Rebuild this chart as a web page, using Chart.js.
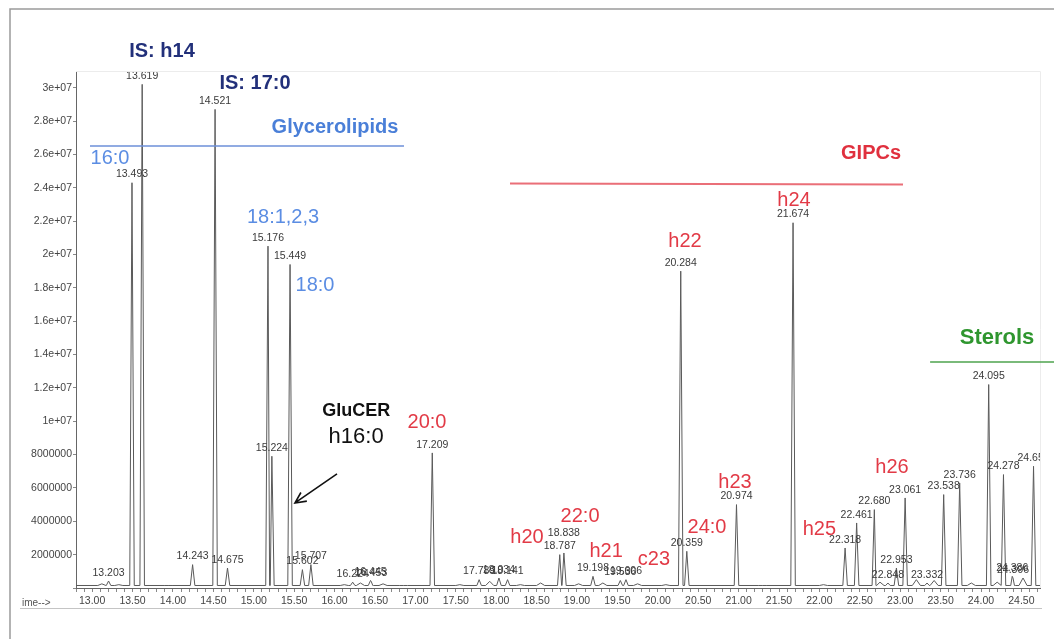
<!DOCTYPE html>
<html>
<head>
<meta charset="utf-8">
<script src="https://cdn.jsdelivr.net/npm/chart.js@4.4.0/dist/chart.umd.min.js"></script>
<style>
  html, body { margin: 0; padding: 0; background: #fff; }
  #wrap { width: 1054px; height: 639px; position: relative; }
</style>
</head>
<body>
<div id="wrap"><canvas id="chart"></canvas></div>
<script>
// retention time (min) and abundance of the integrated peaks
const peakTimes = [13.203, 13.493, 13.619, 14.243, 14.521, 14.675, 15.176, 15.224, 15.449, 15.602,
  15.707, 16.224, 16.445, 16.453, 17.209, 17.789, 18.034, 18.141, 18.787, 18.838,
  19.198, 19.536, 19.606, 20.284, 20.359, 20.974, 21.674, 22.318, 22.461, 22.680,
  22.848, 22.953, 23.061, 23.332, 23.538, 23.736, 24.095, 24.278, 24.386, 24.396, 24.650];
const peakHeights = [0.42e6, 24.3e6, 30.2e6, 1.4e6, 28.7e6, 1.2e6, 20.5e6, 7.9e6, 19.4e6, 1.1e6,
  1.4e6, 0.35e6, 0.45e6, 0.4e6, 8.1e6, 0.5e6, 0.6e6, 0.5e6, 2.0e6, 2.1e6,
  0.7e6, 0.45e6, 0.5e6, 19.0e6, 2.2e6, 5.0e6, 21.9e6, 2.4e6, 3.9e6, 4.7e6,
  0.3e6, 1.2e6, 5.4e6, 0.3e6, 5.6e6, 6.3e6, 12.2e6, 6.8e6, 0.7e6, 0.6e6, 7.3e6];
const peakLabels = peakTimes.map(t => t.toFixed(3));

// small unlabelled bumps on the baseline
const bumpTimes = [13.12, 13.33, 13.95, 16.12, 16.32, 16.6, 16.85, 17.55, 17.92, 18.3, 18.55,
  19.02, 19.32, 19.75, 20.1, 21.3, 22.05, 22.75, 23.2, 23.42, 23.88, 24.2, 24.52];
const bumpHeights = [0.25e6, 0.2e6, 0.15e6, 0.2e6, 0.3e6, 0.25e6, 0.15e6, 0.2e6, 0.4e6, 0.2e6, 0.3e6,
  0.25e6, 0.3e6, 0.25e6, 0.2e6, 0.15e6, 0.2e6, 0.35e6, 0.5e6, 0.45e6, 0.3e6, 0.35e6, 0.6e6];
const baseline = 0.15e6;

// axis ticks
const yTicks = [0, 2e6, 4e6, 6e6, 8e6, 10e6, 12e6, 14e6, 16e6, 18e6, 20e6, 22e6, 24e6, 26e6, 28e6, 30e6];
const xMin = 12.8, xMax = 24.73;

// compound class annotations: [text, time, abundance]
const blueNotes = [['16:0', 13.221, 25.78e6], ['18:1,2,3', 15.362, 22.19e6], ['18:0', 15.758, 18.11e6]];
const redNotes = [['20:0', 17.144, 9.95e6], ['h20', 18.382, 3.0e6], ['22:0', 19.038, 4.26e6],
  ['h21', 19.36, 2.16e6], ['c23', 19.953, 1.68e6], ['24:0', 20.609, 3.6e6], ['h22', 20.337, 20.75e6],
  ['h24', 21.686, 23.26e6], ['h23', 20.956, 6.3e6], ['h25', 22.0, 3.48e6], ['h26', 22.899, 7.2e6]];

const FONT = "'Liberation Sans', Arial, sans-serif";
const HALF = 0.028;

const trace = [{ x: xMin, y: baseline }, { x: xMax, y: baseline }];
peakTimes.forEach((t, i) => trace.push({ x: t - HALF, y: baseline }, { x: t, y: peakHeights[i] }, { x: t + HALF, y: baseline }));
bumpTimes.forEach((t, i) => trace.push({ x: t - 0.05, y: baseline }, { x: t, y: bumpHeights[i] }, { x: t + 0.05, y: baseline }));
trace.sort((a, b) => a.x - b.x);

// minor ticks every 0.1 min
const xTicks = [];
for (let k = Math.ceil(xMin * 10); k <= xMax * 10; k++) xTicks.push(k / 10);

function text(ctx, s, x, y, font, color, align) {
  ctx.font = font;
  ctx.fillStyle = color;
  ctx.textAlign = align || 'center';
  ctx.textBaseline = 'middle';
  ctx.fillText(s, x, y);
}

const decor = {
  id: 'decor',
  afterDatasetsDraw(chart) {
    const { ctx, chartArea: a, scales: { x, y } } = chart;
    ctx.save();
    ctx.beginPath();
    ctx.rect(a.left, 0, a.right - a.left, chart.height);
    ctx.clip();
    ctx.font = '10.5px ' + FONT;
    ctx.fillStyle = '#3a3a3a';
    ctx.textAlign = 'center';
    ctx.textBaseline = 'bottom';
    peakTimes.forEach((t, i) => {
      const lift = peakLabels[i] === '18.838' ? 12 : 0;
      ctx.fillText(peakLabels[i], x.getPixelForValue(t), y.getPixelForValue(peakHeights[i]) - 3 - lift);
    });
    ctx.restore();
  },
  afterDraw(chart) {
    const { ctx, chartArea: a, scales: { x, y } } = chart;
    const px = t => x.getPixelForValue(t), py = v => y.getPixelForValue(v);
    ctx.save();
    // frame of the original printout
    ctx.strokeStyle = '#9a9a9a';
    ctx.lineWidth = 1.5;
    ctx.beginPath();
    ctx.moveTo(10, 639); ctx.lineTo(10, 9); ctx.lineTo(1054, 9);
    ctx.stroke();
    ctx.strokeStyle = '#c4c4c4';
    ctx.lineWidth = 1;
    ctx.beginPath();
    ctx.moveTo(20, 608.5); ctx.lineTo(1042, 608.5);
    ctx.stroke();
    ctx.strokeStyle = '#ececec';
    ctx.beginPath();
    ctx.moveTo(a.left, a.top + 0.5); ctx.lineTo(a.right + 0.5, a.top + 0.5); ctx.lineTo(a.right + 0.5, a.bottom);
    ctx.stroke();
    text(ctx, 'ime-->', 22, 603, '10px ' + FONT, '#555', 'left');

    // class bars
    ctx.lineWidth = 1.5;
    ctx.strokeStyle = '#6d8fd9';
    ctx.beginPath(); ctx.moveTo(px(12.973), py(26.5e6)); ctx.lineTo(px(16.859), py(26.5e6)); ctx.stroke();
    ctx.strokeStyle = '#ea6f78';
    ctx.lineWidth = 2;
    ctx.beginPath(); ctx.moveTo(px(18.171), py(24.25e6)); ctx.lineTo(px(23.035), py(24.2e6)); ctx.stroke();
    ctx.strokeStyle = '#4ea34e';
    ctx.lineWidth = 1.5;
    ctx.beginPath(); ctx.moveTo(px(23.37), py(13.55e6)); ctx.lineTo(1054, py(13.55e6)); ctx.stroke();

    const bold = 'bold 20px ' + FONT;
    text(ctx, 'IS: h14', px(13.864), py(32.2e6), bold, '#22307a');
    text(ctx, 'IS: 17:0', px(15.015), py(30.28e6), bold, '#22307a');
    text(ctx, 'Glycerolipids', px(16.005), py(27.64e6), bold, '#4a7fd8');
    text(ctx, 'GIPCs', px(22.639), py(26.08e6), bold, '#e0303e');
    text(ctx, 'Sterols', px(24.198), py(14.99e6), 'bold 22px ' + FONT, '#2f962f');
    text(ctx, 'GluCER', px(16.267), py(10.61e6), 'bold 18px ' + FONT, '#111');
    text(ctx, 'h16:0', px(16.267), py(9.05e6), '22px ' + FONT, '#111');
    blueNotes.forEach(n => text(ctx, n[0], px(n[1]), py(n[2]), '20px ' + FONT, '#5b8de3'));
    redNotes.forEach(n => text(ctx, n[0], px(n[1]), py(n[2]), '20px ' + FONT, '#e23a46'));

    // arrow to the GluCER peak
    const x1 = px(16.03), y1 = py(6.84e6), x2 = px(15.51), y2 = py(5.1e6);
    const ang = Math.atan2(y2 - y1, x2 - x1);
    ctx.strokeStyle = '#111';
    ctx.lineWidth = 1.6;
    ctx.beginPath(); ctx.moveTo(x1, y1); ctx.lineTo(x2, y2);
    ctx.moveTo(x2 + 12 * Math.cos(ang + Math.PI - 0.45), y2 + 12 * Math.sin(ang + Math.PI - 0.45));
    ctx.lineTo(x2, y2);
    ctx.lineTo(x2 + 12 * Math.cos(ang + Math.PI + 0.45), y2 + 12 * Math.sin(ang + Math.PI + 0.45));
    ctx.stroke();
    ctx.restore();
  }
};

new Chart(document.getElementById('chart'), {
  type: 'line',
  data: {
    datasets: [{
      data: trace,
      borderColor: '#5a5a5a',
      borderWidth: 1,
      pointRadius: 0,
      tension: 0,
      fill: false
    }]
  },
  options: {
    responsive: true,
    maintainAspectRatio: false,
    animation: false,
    layout: { padding: { left: 0, top: 71, right: 14, bottom: 31 } },
    plugins: { legend: { display: false }, tooltip: { enabled: false } },
    scales: {
      x: {
        type: 'linear',
        min: xMin,
        max: xMax,
        afterFit: s => { s.height = 20; },
        afterBuildTicks: s => { s.ticks = xTicks.map(v => ({ value: v })); },
        border: { color: '#666' },
        grid: { drawOnChartArea: false, tickLength: 4, color: '#888' },
        ticks: {
          autoSkip: false,
          maxRotation: 0,
          padding: 3,
          color: '#444',
          font: { family: FONT, size: 10.5 },
          callback: v => Math.abs(v * 2 - Math.round(v * 2)) < 1e-6 ? v.toFixed(2) : ''
        }
      },
      y: {
        min: 0,
        max: 31e6,
        afterFit: s => { s.width = 76; },
        afterBuildTicks: s => { s.ticks = yTicks.map(v => ({ value: v })); },
        border: { color: '#666' },
        grid: { drawOnChartArea: false, tickLength: 3, color: '#888' },
        ticks: {
          autoSkip: false,
          padding: 1,
          color: '#444',
          font: { family: FONT, size: 10.5 },
          callback: v => v === 0 ? '' : v >= 1e7 ? (Math.round(v / 1e6) / 10) + 'e+07' : String(v)
        }
      }
    }
  },
  plugins: [decor]
});
</script>
</body>
</html>
